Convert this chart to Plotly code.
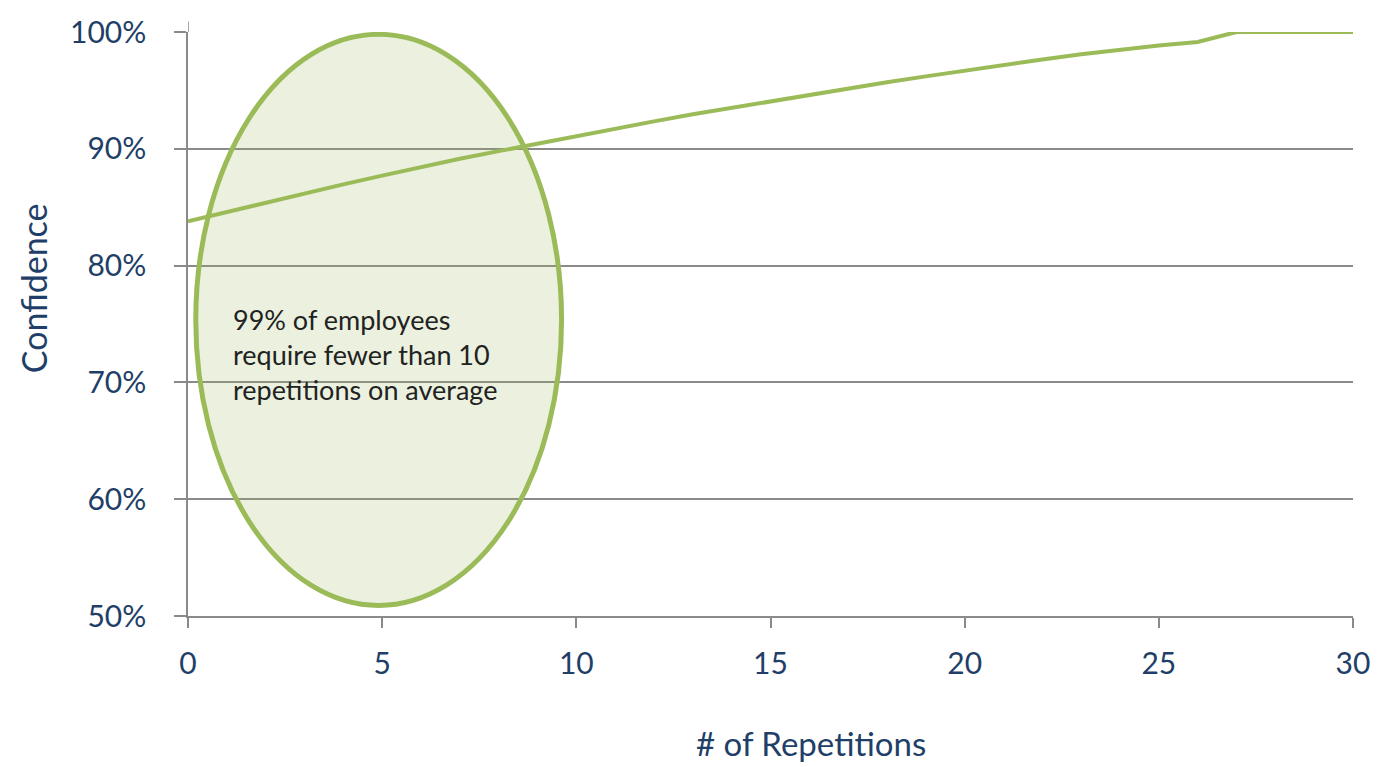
import plotly.graph_objects as go

# Confidence reached after a given number of repetitions
repetitions = list(range(0, 31))
confidence = [83.8, 84.6, 85.4, 86.2, 86.95, 87.7, 88.45, 89.15, 89.8, 90.45,
              91.1, 91.75, 92.35, 92.95, 93.5, 94.1, 94.65, 95.2, 95.7, 96.2,
              96.7, 97.2, 97.65, 98.1, 98.5, 98.85, 99.15, 100.0, 100.0, 100.0,
              100.0]

y_ticks = [50, 60, 70, 80, 90, 100]
y_tick_text = ["50%", "60%", "70%", "80%", "90%", "100%"]
x_ticks = [0, 5, 10, 15, 20, 25, 30]

note_lines = ["99% of employees", "require fewer than 10", "repetitions on average"]
x_title = "# of Repetitions"
y_title = "Confidence"

GREEN = "#9bbb59"
NAVY = "#1f3f68"
GRID = "#8a8a8a"
FONT = "Lato"

W, H = 1382, 767
ML, MR, MT, MB = 188, 22, 28, 151

fig = go.Figure()
fig.add_trace(go.Scatter(
    x=repetitions, y=confidence, mode="lines",
    line=dict(color=GREEN, width=4), hoverinfo="skip", showlegend=False,
))

# Highlight ellipse around the first ten repetitions
fig.add_shape(
    type="circle", xref="x", yref="y",
    x0=0.2, x1=9.62, y0=50.9, y1=99.8,
    line=dict(color=GREEN, width=5),
    fillcolor="rgba(155,187,89,0.2)", layer="between",
)

# Short stub of the vertical axis above the top gridline
fig.add_shape(type="line", xref="x", yref="paper", x0=0, x1=0, y0=1.0, y1=1.018,
              line=dict(color=GRID, width=1.5))

fig.add_annotation(
    x=1.1, y=72.4, xref="x", yref="y", xanchor="left", yanchor="middle",
    text="<br>".join(note_lines), showarrow=False, align="left",
    font=dict(family=FONT, size=27, color="#222222"),
)

# Axis titles placed in pixel terms relative to the plot area
plot_w = W - ML - MR
plot_h = H - MT - MB
fig.add_annotation(
    x=(815 - ML) / plot_w, y=-(744 - MT - plot_h) / plot_h,
    xref="paper", yref="paper", xanchor="center", yanchor="middle",
    text=x_title, showarrow=False,
    font=dict(family=FONT, size=33, color=NAVY),
)
fig.add_annotation(
    x=-(ML - 32) / plot_w, y=1 - (286 - MT) / plot_h,
    xref="paper", yref="paper", xanchor="center", yanchor="middle",
    text=y_title, showarrow=False, textangle=-90,
    font=dict(family=FONT, size=34, color=NAVY),
)

fig.update_layout(
    width=W, height=H,
    margin=dict(l=ML, r=MR, t=MT, b=MB),
    paper_bgcolor="white", plot_bgcolor="white",
    font=dict(family=FONT, color=NAVY),
    showlegend=False,
)

fig.update_xaxes(
    range=[0, 30], tickvals=x_ticks, showgrid=False, zeroline=False,
    showline=True, linecolor=GRID, linewidth=1.5,
    ticks="outside", ticklen=10, tickcolor=GRID, tickwidth=1.5,
    tickfont=dict(family=FONT, size=30, color=NAVY),
    ticklabelstandoff=10,
)
fig.update_yaxes(
    range=[50, 100], tickvals=y_ticks, ticktext=y_tick_text,
    showgrid=True, gridcolor=GRID, gridwidth=1.5, zeroline=False,
    showline=True, linecolor=GRID, linewidth=1.5,
    ticks="outside", ticklen=12, tickcolor=GRID, tickwidth=1.5,
    tickfont=dict(family=FONT, size=30, color=NAVY),
    ticklabelstandoff=22,
)

fig.write_html("out.html")
